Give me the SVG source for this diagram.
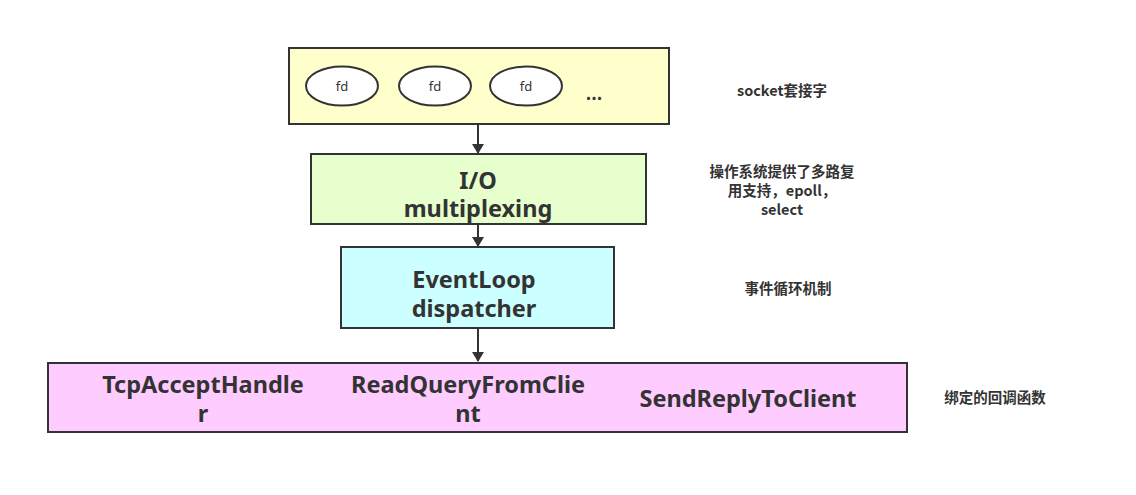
<svg xmlns="http://www.w3.org/2000/svg" width="1136" height="495" viewBox="0 0 1136 495">
<style>
.box{stroke:#333;stroke-width:2}
.big{font-family:"Noto Sans","Noto Sans CJK SC",sans-serif;font-weight:bold;font-size:23.5px;fill:#333;text-anchor:middle}
.lbl{font-family:"Noto Sans CJK SC","Noto Sans",sans-serif;font-weight:bold;font-size:14.5px;fill:#333;text-anchor:middle}
.fd{font-family:"Noto Sans",sans-serif;font-size:13px;fill:#333;text-anchor:middle}
.conn{stroke:#333;stroke-width:2;fill:none;marker-end:url(#arr)}
</style>
<defs>
<marker id="arr" markerWidth="10" markerHeight="12" refX="9" refY="6" orient="auto" markerUnits="userSpaceOnUse">
<path d="M0,0 L10,6 L0,12 Z" fill="#333"/>
</marker>
</defs>
<rect width="1136" height="495" fill="#fff"/>
<g id="connectors">
<line class="conn" x1="478" y1="124" x2="478" y2="153"/>
<line class="conn" x1="478" y1="224" x2="478" y2="246"/>
<line class="conn" x1="478" y1="328" x2="478" y2="361"/>
</g>
<g id="sockets">
<rect class="box" x="289" y="48" width="380" height="76" fill="#FFFFCC"/>
<ellipse class="box" cx="342" cy="86" rx="36" ry="19.5" fill="#fff"/>
<text class="fd" x="342" y="91">fd</text>
<ellipse class="box" cx="435" cy="86" rx="36" ry="19.5" fill="#fff"/>
<text class="fd" x="435" y="91">fd</text>
<ellipse class="box" cx="526" cy="86" rx="36" ry="19.5" fill="#fff"/>
<text class="fd" x="526" y="91">fd</text>
<text class="lbl" x="594" y="100" style="font-size:17px">...</text>
</g>
<g id="io">
<rect class="box" x="311" y="154" width="335" height="70" fill="#E6FFCC"/>
<text class="big" x="478" y="189">I/O</text>
<text class="big" x="478" y="217">multiplexing</text>
</g>
<g id="eventloop">
<rect class="box" x="341" y="247" width="273" height="81" fill="#CCFFFF"/>
<text class="big" x="474" y="288">EventLoop</text>
<text class="big" x="474" y="317">dispatcher</text>
</g>
<g id="handlers">
<rect class="box" x="48" y="363" width="859" height="69" fill="#FFCCFF"/>
<text class="big" x="203" y="393">TcpAcceptHandle</text>
<text class="big" x="203" y="422">r</text>
<text class="big" x="468" y="393">ReadQueryFromClie</text>
<text class="big" x="468" y="422">nt</text>
<text class="big" x="748" y="407">SendReplyToClient</text>
</g>
<g id="labels">
<text class="lbl" x="782" y="96">socket套接字</text>
<text class="lbl" x="782" y="177">操作系统提供了多路复</text>
<text class="lbl" x="782" y="196">用支持，epoll，</text>
<text class="lbl" x="782" y="215">select</text>
<text class="lbl" x="788" y="294">事件循环机制</text>
<text class="lbl" x="995" y="403">绑定的回调函数</text>
</g>
</svg>
